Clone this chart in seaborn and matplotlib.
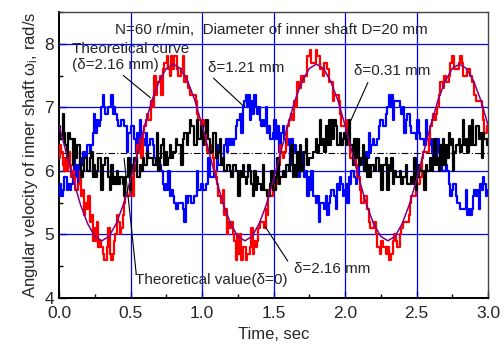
import numpy as np
import pandas as pd
import matplotlib
matplotlib.use("Agg")
import matplotlib.pyplot as plt
from matplotlib.ticker import MultipleLocator
import seaborn as sns

# ---------------- data ----------------
time_s = np.round(np.arange(301) * 0.01, 2)   # sample instants, s

# measured, delta = 2.16 mm (red)
omega_216 = [
 6.2, 6.4, 6.3, 6.1, 6.0, 6.2, 6.0, 6.3, 6.1, 5.9,
 6.0, 5.9, 5.7, 5.7, 5.8, 6.0, 5.6, 5.7, 5.3, 5.5,
 5.4, 5.6, 5.2, 5.3, 4.9, 5.1, 4.9, 5.2, 4.8, 4.9,
 4.8, 4.7, 4.6, 4.6, 4.8, 5.1, 4.7, 4.6, 4.7, 4.9,
 5.0, 5.3, 5.2, 5.0, 5.1, 5.3, 5.5, 5.6, 5.6, 5.6,
 5.8, 5.9, 5.6, 6.1, 6.0, 6.4, 6.3, 6.5, 6.2, 6.6,
 6.7, 6.8, 6.9, 6.8, 6.8, 7.1, 7.0, 7.5, 7.2, 7.4,
 7.4, 7.5, 7.2, 7.6, 7.7, 7.7, 7.8, 7.6, 7.5, 7.8,
 7.6, 7.8, 7.8, 7.6, 7.5, 7.5, 7.6, 7.8, 7.4, 7.5,
 7.4, 7.3, 7.2, 7.2, 7.2, 7.2, 7.1, 6.9, 6.8, 6.8,
 6.7, 6.8, 6.7, 6.4, 6.3, 6.3, 6.4, 6.3, 6.2, 6.0,
 5.9, 5.8, 5.6, 5.6, 5.5, 5.7, 5.3, 5.4, 5.0, 5.2,
 5.1, 5.2, 5.0, 4.9, 4.6, 5.0, 4.7, 5.0, 4.6, 4.8,
 4.8, 4.6, 4.7, 4.7, 4.8, 5.1, 4.7, 4.9, 4.8, 4.9,
 5.1, 5.2, 5.2, 5.2, 5.1, 5.4, 5.3, 5.7, 5.6, 5.6,
 5.8, 5.7, 5.8, 5.9, 6.1, 6.4, 6.3, 6.2, 6.3, 6.4,
 6.7, 6.8, 6.8, 6.9, 6.8, 7.1, 7.0, 7.4, 7.3, 7.3,
 7.5, 7.4, 7.5, 7.5, 7.8, 7.8, 7.9, 7.7, 7.7, 7.7,
 7.9, 7.8, 7.8, 7.6, 7.6, 7.5, 7.7, 7.7, 7.6, 7.4,
 7.4, 7.4, 7.1, 7.2, 7.2, 7.2, 7.1, 6.9, 6.7, 6.7,
 6.7, 6.8, 6.5, 6.4, 6.2, 6.2, 6.3, 6.2, 6.1, 5.9,
 5.9, 5.7, 5.5, 5.5, 5.6, 5.6, 5.4, 5.2, 5.1, 5.1,
 5.1, 5.2, 5.0, 4.8, 4.8, 4.7, 4.9, 4.8, 4.8, 4.7,
 4.8, 4.6, 4.6, 4.7, 4.9, 5.0, 4.9, 4.8, 4.8, 5.0,
 5.1, 5.2, 5.2, 5.2, 5.2, 5.3, 5.5, 5.6, 5.6, 5.6,
 5.8, 5.8, 5.8, 5.9, 6.2, 6.3, 6.3, 6.3, 6.3, 6.5,
 6.7, 6.8, 6.9, 6.8, 6.9, 7.0, 7.2, 7.4, 7.4, 7.3,
 7.5, 7.4, 7.4, 7.5, 7.7, 7.8, 7.8, 7.6, 7.6, 7.6,
 7.7, 7.8, 7.7, 7.5, 7.5, 7.5, 7.6, 7.6, 7.5, 7.4,
 7.4, 7.2, 7.1, 7.1, 7.1, 7.1, 7.0, 6.8, 6.6, 6.6, 6.7,
]

# measured, delta = 1.21 mm (blue)
omega_121 = [
 5.6, 5.8, 5.6, 5.7, 5.9, 5.9, 5.7, 5.8, 5.7, 5.8,
 5.9, 6.2, 5.9, 6.1, 5.8, 6.2, 6.1, 6.3, 6.3, 6.2,
 6.4, 6.4, 6.3, 6.4, 6.6, 6.9, 6.6, 6.8, 6.7, 6.8,
 7.0, 7.2, 7.0, 6.9, 6.9, 7.0, 7.0, 7.2, 6.9, 7.0,
 6.9, 6.8, 6.7, 6.7, 6.8, 6.8, 6.7, 6.7, 6.3, 6.6,
 6.6, 6.7, 6.7, 6.5, 6.3, 6.6, 6.4, 6.8, 6.5, 6.5,
 6.4, 6.6, 6.2, 6.4, 6.5, 6.5, 6.4, 6.2, 6.1, 6.1,
 6.1, 6.1, 6.0, 5.8, 5.7, 5.8, 5.7, 6.0, 5.6, 5.7,
 5.6, 5.5, 5.4, 5.4, 5.5, 5.5, 5.5, 5.4, 5.2, 5.6,
 5.5, 5.6, 5.6, 5.5, 5.5, 5.6, 5.6, 6.0, 5.7, 5.7,
 5.8, 5.7, 5.7, 5.8, 5.8, 6.2, 5.9, 5.9, 5.9, 6.0,
 6.0, 6.4, 6.1, 6.1, 6.1, 6.2, 6.4, 6.5, 6.3, 6.5,
 6.4, 6.5, 6.4, 6.5, 6.7, 6.8, 6.8, 6.9, 6.6, 7.0,
 7.1, 7.2, 7.0, 7.2, 6.8, 7.1, 6.9, 7.2, 7.0, 6.9,
 7.0, 6.8, 6.7, 6.8, 6.7, 7.0, 6.6, 6.7, 6.5, 6.5,
 6.6, 6.8, 6.5, 6.7, 6.3, 6.4, 6.6, 6.7, 6.5, 6.4,
 6.5, 6.4, 6.1, 6.5, 6.3, 6.4, 6.3, 6.2, 5.9, 6.2,
 6.0, 6.3, 5.9, 6.0, 5.6, 5.9, 5.7, 6.0, 5.6, 5.6,
 5.5, 5.6, 5.2, 5.5, 5.5, 5.5, 5.4, 5.6, 5.3, 5.5,
 5.6, 5.7, 5.7, 5.6, 5.4, 5.8, 5.7, 5.9, 5.8, 5.6,
 5.7, 5.8, 5.5, 5.9, 5.8, 6.0, 6.0, 5.9, 5.8, 5.9,
 6.1, 6.2, 6.2, 6.1, 6.0, 6.3, 6.2, 6.6, 6.3, 6.4,
 6.5, 6.4, 6.4, 6.5, 6.7, 6.8, 6.8, 6.7, 6.7, 6.9,
 7.0, 7.2, 7.0, 7.2, 6.8, 7.1, 7.1, 7.1, 7.1, 7.0,
 6.9, 7.0, 6.6, 6.8, 6.9, 6.9, 6.7, 6.6, 6.6, 6.6,
 6.5, 6.8, 6.6, 6.5, 6.5, 6.5, 6.4, 6.8, 6.5, 6.4,
 6.5, 6.3, 6.2, 6.4, 6.2, 6.5, 6.3, 6.1, 6.0, 6.0,
 6.0, 6.1, 6.0, 5.8, 5.6, 5.7, 5.8, 5.8, 5.6, 5.5,
 5.5, 5.4, 5.4, 5.4, 5.4, 5.7, 5.3, 5.4, 5.3, 5.4,
 5.6, 5.7, 5.6, 5.7, 5.4, 5.8, 5.7, 5.9, 5.8, 5.6, 5.7,
]

# measured, delta = 0.31 mm (black)
omega_031 = [
 6.7, 6.5, 6.5, 6.9, 6.6, 6.4, 6.2, 6.6, 6.5, 6.5,
 6.1, 6.5, 6.2, 6.4, 6.4, 6.1, 5.9, 6.0, 6.2, 6.2,
 6.0, 6.0, 6.2, 6.3, 5.9, 6.1, 5.9, 6.0, 6.2, 6.2,
 5.7, 6.1, 6.1, 6.2, 6.2, 5.9, 5.7, 6.1, 5.8, 5.9,
 5.8, 6.0, 5.8, 5.9, 5.9, 5.8, 5.6, 5.9, 5.9, 6.2,
 5.7, 6.1, 6.0, 6.2, 6.2, 5.9, 5.9, 6.1, 6.0, 6.2,
 6.1, 6.1, 6.3, 6.2, 6.2, 6.2, 6.1, 6.1, 6.2, 6.6,
 6.0, 6.2, 6.4, 6.5, 6.1, 6.3, 6.1, 6.2, 6.4, 6.2,
 6.3, 6.3, 6.5, 6.4, 6.4, 6.4, 6.1, 6.5, 6.6, 6.6,
 6.4, 6.6, 6.8, 6.7, 6.7, 6.4, 6.4, 6.8, 6.5, 6.5,
 6.7, 6.4, 6.6, 6.8, 6.8, 6.5, 6.3, 6.3, 6.6, 6.6,
 6.2, 6.2, 6.3, 6.5, 6.1, 6.2, 6.0, 6.0, 6.1, 6.1,
 6.0, 5.9, 6.1, 6.1, 6.0, 6.0, 5.6, 6.0, 5.9, 6.1,
 5.9, 5.8, 5.9, 6.1, 6.0, 5.8, 5.6, 6.0, 5.7, 5.9,
 5.8, 5.8, 5.7, 6.1, 5.7, 5.7, 5.6, 5.6, 5.8, 6.0,
 5.7, 5.7, 5.9, 6.2, 5.8, 5.9, 5.9, 6.0, 5.9, 6.1,
 6.1, 6.0, 6.2, 6.4, 5.9, 6.1, 5.9, 6.3, 6.0, 6.4,
 6.0, 6.1, 6.3, 6.5, 6.1, 6.2, 6.2, 6.2, 6.3, 6.3,
 6.5, 6.3, 6.4, 6.8, 6.4, 6.5, 6.3, 6.7, 6.4, 6.8,
 6.4, 6.8, 6.5, 6.8, 6.7, 6.4, 6.4, 6.6, 6.4, 6.5,
 6.6, 6.4, 6.5, 6.8, 6.4, 6.4, 6.1, 6.5, 6.2, 6.5,
 6.1, 6.1, 6.2, 6.4, 6.0, 6.2, 5.9, 6.1, 5.9, 6.1,
 6.1, 6.0, 6.2, 6.2, 6.0, 6.1, 5.7, 6.1, 6.1, 6.2,
 5.7, 6.1, 6.0, 6.2, 5.8, 6.0, 5.9, 5.9, 5.9, 6.0,
 5.8, 5.9, 5.9, 6.1, 5.8, 5.8, 5.8, 5.9, 5.8, 6.2,
 5.7, 5.9, 6.1, 6.0, 6.0, 6.0, 5.7, 6.1, 6.0, 6.0,
 6.2, 6.0, 6.1, 6.5, 6.1, 6.2, 6.0, 6.4, 6.1, 6.5,
 6.1, 6.4, 6.2, 6.6, 6.4, 6.5, 6.0, 6.3, 6.4, 6.4,
 6.5, 6.3, 6.4, 6.8, 6.4, 6.5, 6.3, 6.7, 6.4, 6.8,
 6.4, 6.4, 6.7, 6.7, 6.5, 6.6, 6.2, 6.6, 6.5, 6.5, 6.4,
]

# theoretical curve, delta = 2.16 mm (purple), sampled every 0.05 s
theory_time = np.round(np.arange(61) * 0.05, 2)
theory_216 = [
 6.72, 6.29, 5.86, 5.47, 5.17, 4.97, 4.90, 4.97, 5.17, 5.47,
 5.86, 6.29, 6.72, 7.11, 7.41, 7.61, 7.68, 7.61, 7.41, 7.11,
 6.72, 6.29, 5.86, 5.47, 5.17, 4.97, 4.90, 4.97, 5.17, 5.47,
 5.86, 6.29, 6.72, 7.11, 7.41, 7.61, 7.68, 7.61, 7.41, 7.11,
 6.72, 6.29, 5.86, 5.47, 5.17, 4.97, 4.90, 4.97, 5.17, 5.47,
 5.86, 6.29, 6.72, 7.11, 7.41, 7.61, 7.68, 7.61, 7.41, 7.11,
 6.72,
]

# theoretical value, delta = 0 (2*pi rad/s at N = 60 r/min)
theory_zero = 6.28

x_ticks = [0.0, 0.5, 1.0, 1.5, 2.0, 2.5, 3.0]
x_tick_labels = ["0.0", "0.5", "1.0", "1.5", "2.0", "2.5", "3.0"]
y_ticks = [4, 5, 6, 7, 8]

measured = pd.DataFrame({"t": time_s, "d216": omega_216,
                         "d121": omega_121, "d031": omega_031})
theory = pd.DataFrame({"t": theory_time, "w": theory_216})

# ---------------- drawing ----------------
sns.set_style("ticks")
plt.rcParams["font.family"] = ["Liberation Sans", "DejaVu Sans"]
plt.rcParams["mathtext.fontset"] = "custom"
plt.rcParams["mathtext.rm"] = "Liberation Sans"
plt.rcParams["mathtext.it"] = "Liberation Sans:italic"

fig = plt.figure(figsize=(5.03, 3.51), dpi=100)
ax = fig.add_axes([59 / 503, 1 - 298 / 351, 429 / 503, 286 / 351])

# grid
for gx in x_ticks[1:-1]:
    ax.axvline(gx, color="#0000FF", lw=0.9, zorder=1)
for gy in y_ticks[1:]:
    ax.axhline(gy, color="#0000FF", lw=0.9, zorder=1)

ax.axhline(theory_zero, color="black", lw=0.8, ls=(0, (6, 2, 1, 2)), zorder=2)
sns.lineplot(data=measured, x="t", y="d121", ax=ax, color="#0000FF",
             lw=1.6, drawstyle="steps-mid", zorder=3)
sns.lineplot(data=measured, x="t", y="d216", ax=ax, color="#FF0000",
             lw=1.6, drawstyle="steps-mid", zorder=4)
sns.lineplot(data=measured, x="t", y="d031", ax=ax, color="#000000",
             lw=1.6, drawstyle="steps-mid", zorder=5)
sns.lineplot(data=theory, x="t", y="w", ax=ax, color="#800080",
             lw=1.1, zorder=6)

ax.set_xlim(0, 3.0)
ax.set_ylim(4, 8.5)
ax.set_xticks(x_ticks)
ax.set_xticklabels(x_tick_labels)
ax.set_yticks(y_ticks)
ax.xaxis.set_minor_locator(MultipleLocator(0.25))
ax.yaxis.set_minor_locator(MultipleLocator(0.5))
ax.tick_params(which="both", direction="in", top=False, right=False,
               labelsize=12.5, color="black")
ax.tick_params(which="major", length=5, width=1)
ax.tick_params(which="minor", length=3, width=1)
ax.tick_params(axis="x", pad=6)

for side in ["left", "bottom"]:
    ax.spines[side].set_linewidth(1.4)
    ax.spines[side].set_color("black")
for side in ["top", "right"]:
    ax.spines[side].set_linewidth(1.0)
    ax.spines[side].set_color("#444444")
    ax.spines[side].set_visible(True)

ax.set_xlabel("Time, sec", fontsize=12, labelpad=4)
ax.set_ylabel(r"Angular velocity of inner shaft ω$_\mathrm{i}$, rad/s",
              fontsize=12, labelpad=3)

fs = 11
ax.text(0.39, 8.22, "N=60 r/min,  Diameter of inner shaft D=20 mm",
        fontsize=fs, ha="left", va="center", zorder=10)
ax.text(0.09, 7.92, "Theoretical curve", fontsize=fs, ha="left",
        va="center", zorder=10)
ax.text(0.09, 7.67, "(δ=2.16 mm)", fontsize=fs, ha="left", va="center",
        zorder=10)
ax.text(1.04, 7.62, "δ=1.21 mm", fontsize=fs, ha="left", va="center",
        zorder=10)
ax.text(2.06, 7.57, "δ=0.31 mm", fontsize=fs, ha="left", va="center",
        zorder=10)
ax.text(0.53, 4.28, "Theoretical value(δ=0)", fontsize=fs, ha="left",
        va="center", zorder=10)
ax.text(1.64, 4.46, "δ=2.16 mm", fontsize=fs, ha="left", va="center",
        zorder=10)

lead = dict(color="black", lw=0.8, zorder=9)
ax.plot([0.45, 0.64], [7.50, 7.15], **lead)
ax.plot([1.08, 1.29], [7.46, 7.02], **lead)
ax.plot([2.16, 2.03], [7.39, 6.74], **lead)
ax.plot([0.54, 0.455], [4.38, 6.20], **lead)
ax.plot([1.60, 1.44], [4.58, 5.13], **lead)

fig.savefig("out.png", dpi=100)
